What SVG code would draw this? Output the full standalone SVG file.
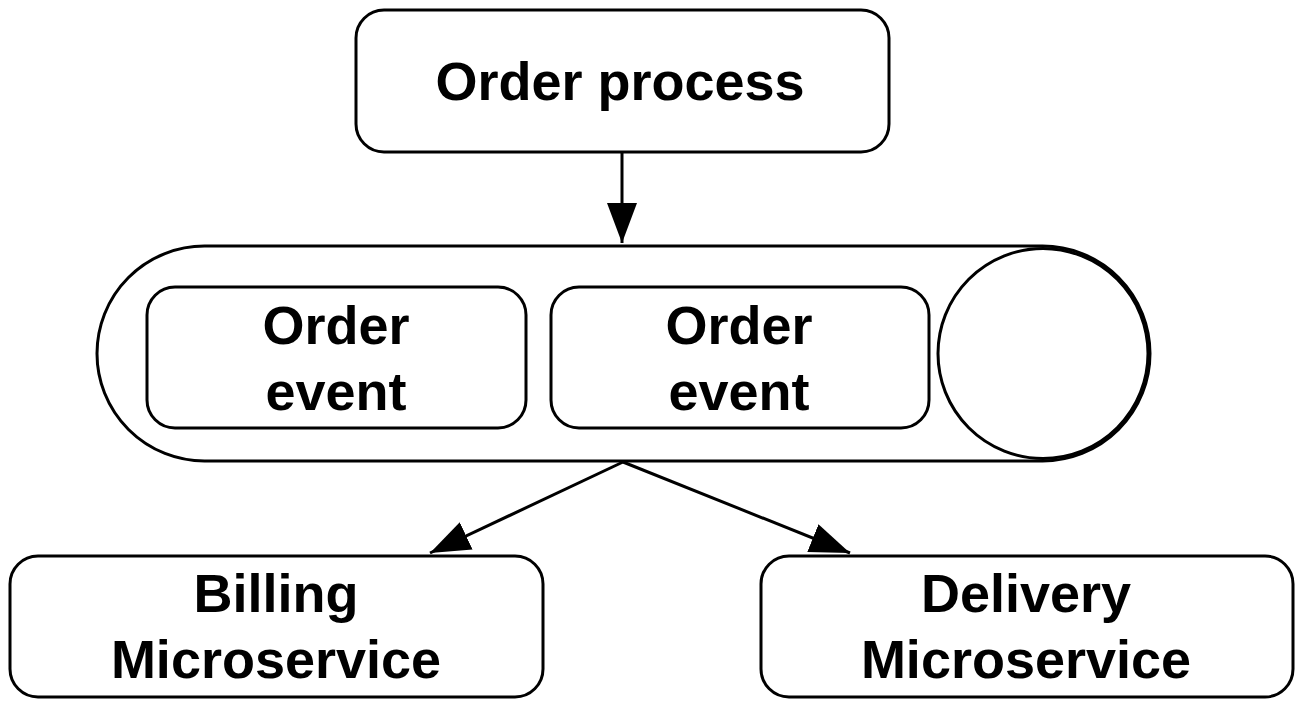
<svg xmlns="http://www.w3.org/2000/svg" width="1299" height="704" viewBox="0 0 1299 704">
<defs>
<style>
.box{fill:#fff;stroke:#000;stroke-width:3}
.t{font-family:"Liberation Sans",Arial,sans-serif;font-weight:bold;font-size:54px;fill:#000;text-anchor:middle}
.c{stroke:#000;stroke-width:3;fill:none}
</style>
<marker id="ah" viewBox="0 0 40 30" refX="40" refY="15" markerWidth="40" markerHeight="30" markerUnits="userSpaceOnUse" orient="auto">
<path d="M0,0 L40,15 L0,30 Z" fill="#000"/>
</marker>
</defs>
<rect width="1299" height="704" fill="#fff"/>
<g id="order-process">
<rect class="box" x="356" y="10" width="533" height="142" rx="28"/>
<text class="t" x="620" y="100">Order process</text>
</g>
<g id="queue">
<rect class="box" x="97" y="246" width="1053" height="215" rx="107.5"/>
<circle class="box" cx="1043" cy="353.5" r="105"/>
</g>
<g id="event1">
<rect class="box" x="147" y="287" width="379" height="141" rx="28"/>
<text class="t" x="336" y="344">Order</text>
<text class="t" x="336" y="410">event</text>
</g>
<g id="event2">
<rect class="box" x="551" y="287" width="378" height="141" rx="28"/>
<text class="t" x="739" y="344">Order</text>
<text class="t" x="739" y="410">event</text>
</g>
<g id="billing">
<rect class="box" x="10" y="556" width="533" height="141" rx="28"/>
<text class="t" x="276" y="612">Billing</text>
<text class="t" x="276" y="678">Microservice</text>
</g>
<g id="delivery">
<rect class="box" x="761" y="556" width="532" height="141" rx="28"/>
<text class="t" x="1026" y="612">Delivery</text>
<text class="t" x="1026" y="678">Microservice</text>
</g>
<g id="connectors">
<line class="c" x1="622" y1="152" x2="622" y2="243" marker-end="url(#ah)"/>
<line class="c" x1="623" y1="462" x2="430" y2="553" marker-end="url(#ah)"/>
<line class="c" x1="623" y1="462" x2="850" y2="553" marker-end="url(#ah)"/>
</g>
</svg>
